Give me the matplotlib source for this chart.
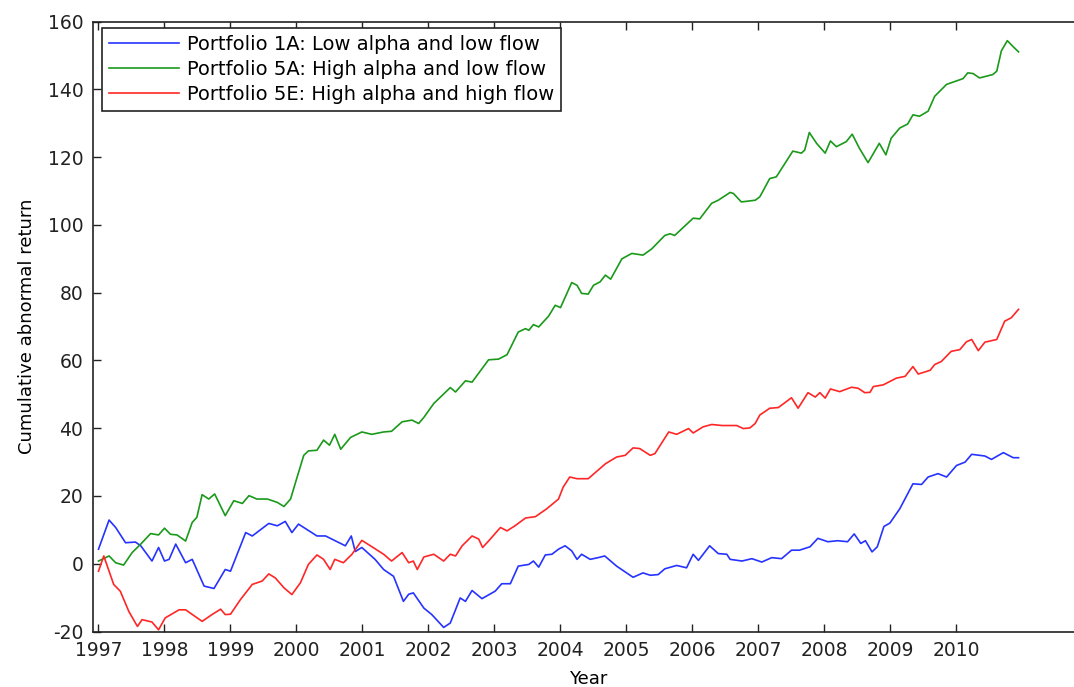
import matplotlib
matplotlib.use("Agg")
import matplotlib.pyplot as plt

plt.rcParams["axes.unicode_minus"] = False

# ---- data ----
blue_x = [1997.00, 1997.16, 1997.26, 1997.41, 1997.56, 1997.64, 1997.81, 1997.91, 1998.00, 1998.07,
          1998.17, 1998.32, 1998.42, 1998.60, 1998.75, 1998.92, 1999.00, 1999.23, 1999.33, 1999.58,
          1999.71, 1999.83, 1999.93, 2000.03, 2000.31, 2000.44, 2000.74, 2000.83, 2000.89, 2000.99,
          2001.19, 2001.32, 2001.47, 2001.62, 2001.70, 2001.77, 2001.93, 2002.05, 2002.23, 2002.33,
          2002.48, 2002.56, 2002.66, 2002.81, 2003.01, 2003.11, 2003.24, 2003.36, 2003.52, 2003.59,
          2003.67, 2003.77, 2003.87, 2003.97, 2004.07, 2004.17, 2004.25, 2004.32, 2004.45, 2004.57,
          2004.67, 2004.85, 2005.10, 2005.25, 2005.36, 2005.48, 2005.58, 2005.76, 2005.91, 2006.01,
          2006.09, 2006.26, 2006.39, 2006.52, 2006.57, 2006.75, 2006.90, 2007.05, 2007.20, 2007.35,
          2007.50, 2007.62, 2007.78, 2007.90, 2008.05, 2008.20, 2008.35, 2008.45, 2008.55, 2008.62,
          2008.72, 2008.80, 2008.90, 2008.99, 2009.14, 2009.34, 2009.47, 2009.57, 2009.72, 2009.85,
          2010.00, 2010.13, 2010.23, 2010.43, 2010.53, 2010.71, 2010.86, 2010.94]
blue_y = [4.3, 12.9, 10.7, 6.2, 6.4, 5.3, 0.8, 4.8, 0.8, 1.3,
          5.8, 0.3, 1.3, -6.6, -7.3, -1.7, -2.2, 9.2, 8.2, 11.9,
          11.2, 12.5, 9.2, 11.7, 8.2, 8.2, 5.3, 8.2, 3.6, 4.8,
          1.3, -1.7, -3.7, -11.1, -9.0, -8.6, -13.1, -15.0, -18.8, -17.5,
          -10.1, -11.1, -7.9, -10.3, -8.1, -5.9, -5.9, -0.7, -0.2, 0.8,
          -1.0, 2.6, 2.8, 4.3, 5.3, 3.8, 1.3, 2.8, 1.3, 1.8,
          2.3, -0.7, -4.0, -2.7, -3.4, -3.2, -1.5, -0.5, -1.2, 2.8,
          1.0, 5.3, 3.0, 2.8, 1.3, 0.8, 1.5, 0.5, 1.8, 1.5,
          4.0, 4.0, 5.0, 7.5, 6.5, 6.8, 6.5, 8.8, 6.0, 6.8,
          3.5, 5.0, 11.0, 12.0, 16.2, 23.6, 23.4, 25.6, 26.6, 25.6,
          29.0, 30.0, 32.3, 31.8, 30.8, 32.8, 31.3, 31.3]

green_x = [1997.00, 1997.16, 1997.26, 1997.38, 1997.51, 1997.64, 1997.79, 1997.91, 1998.00, 1998.09,
           1998.19, 1998.32, 1998.42, 1998.49, 1998.57, 1998.67, 1998.76, 1998.92, 1999.05, 1999.18,
           1999.28, 1999.40, 1999.56, 1999.71, 1999.81, 1999.91, 2000.01, 2000.11, 2000.18, 2000.31,
           2000.41, 2000.50, 2000.58, 2000.67, 2000.82, 2000.99, 2001.14, 2001.32, 2001.44, 2001.60,
           2001.75, 2001.85, 2001.93, 2002.08, 2002.33, 2002.41, 2002.56, 2002.66, 2002.91, 2003.06,
           2003.19, 2003.36, 2003.47, 2003.52, 2003.59, 2003.67, 2003.82, 2003.92, 2004.00, 2004.17,
           2004.25, 2004.32, 2004.42, 2004.50, 2004.60, 2004.68, 2004.76, 2004.93, 2005.08, 2005.25,
           2005.38, 2005.58, 2005.66, 2005.73, 2006.01, 2006.11, 2006.29, 2006.39, 2006.57, 2006.62,
           2006.74, 2006.95, 2007.02, 2007.17, 2007.27, 2007.52, 2007.65, 2007.70, 2007.77, 2007.88,
           2008.01, 2008.09, 2008.18, 2008.33, 2008.42, 2008.53, 2008.66, 2008.83, 2008.93, 2009.01,
           2009.14, 2009.26, 2009.34, 2009.44, 2009.57, 2009.67, 2009.85, 2010.10, 2010.17, 2010.25,
           2010.35, 2010.55, 2010.61, 2010.68, 2010.77, 2010.86, 2010.94]
green_y = [0.8, 2.3, 0.3, -0.4, 3.3, 5.8, 8.9, 8.5, 10.5, 8.7,
           8.5, 6.7, 12.2, 13.7, 20.4, 19.1, 20.6, 14.2, 18.6, 17.8,
           20.1, 19.1, 19.1, 18.1, 16.9, 19.1, 25.6, 32.0, 33.3, 33.5,
           36.5, 35.0, 38.2, 33.8, 37.3, 38.9, 38.2, 38.9, 39.1, 41.9,
           42.4, 41.4, 43.2, 47.3, 52.0, 50.7, 54.0, 53.6, 60.2, 60.4,
           61.7, 68.4, 69.4, 68.9, 70.6, 69.9, 73.1, 76.3, 75.6, 83.0,
           82.2, 79.8, 79.6, 82.2, 83.2, 85.2, 84.0, 90.0, 91.6, 91.1,
           92.9, 96.9, 97.4, 96.9, 102.0, 101.8, 106.4, 107.3, 109.6, 109.3,
           106.8, 107.3, 108.3, 113.7, 114.2, 121.8, 121.2, 122.1, 127.3, 124.1,
           121.2, 124.8, 123.1, 124.6, 126.8, 122.6, 118.4, 124.1, 120.7, 125.6,
           128.6, 129.8, 132.5, 132.1, 133.6, 138.0, 141.5, 143.2, 144.9, 144.7,
           143.4, 144.4, 145.4, 151.4, 154.4, 152.6, 151.1]

red_x = [1997.00, 1997.08, 1997.23, 1997.33, 1997.46, 1997.59, 1997.66, 1997.81, 1997.91, 1998.01,
         1998.22, 1998.32, 1998.57, 1998.72, 1998.85, 1998.92, 1999.00, 1999.15, 1999.33, 1999.48,
         1999.58, 1999.68, 1999.81, 1999.93, 2000.06, 2000.18, 2000.31, 2000.41, 2000.51, 2000.58,
         2000.71, 2000.84, 2000.99, 2001.12, 2001.32, 2001.44, 2001.60, 2001.70, 2001.77, 2001.83,
         2001.93, 2002.08, 2002.23, 2002.33, 2002.41, 2002.51, 2002.66, 2002.76, 2002.82, 2002.91,
         2003.09, 2003.19, 2003.31, 2003.47, 2003.62, 2003.79, 2003.97, 2004.04, 2004.14, 2004.25,
         2004.42, 2004.68, 2004.85, 2004.98, 2005.10, 2005.20, 2005.36, 2005.43, 2005.64, 2005.76,
         2005.94, 2006.01, 2006.16, 2006.29, 2006.45, 2006.67, 2006.77, 2006.87, 2006.95, 2007.02,
         2007.17, 2007.30, 2007.50, 2007.60, 2007.75, 2007.86, 2007.93, 2008.01, 2008.09, 2008.23,
         2008.41, 2008.51, 2008.61, 2008.69, 2008.74, 2008.89, 2009.09, 2009.22, 2009.34, 2009.42,
         2009.60, 2009.67, 2009.77, 2009.92, 2010.05, 2010.15, 2010.23, 2010.33, 2010.43, 2010.61,
         2010.73, 2010.83, 2010.94]
red_y = [-2.2, 2.3, -6.1, -8.1, -14.1, -18.5, -16.5, -17.2, -19.5, -16.0,
         -13.6, -13.6, -17.0, -15.0, -13.4, -15.0, -14.9, -10.6, -6.1, -5.1,
         -3.0, -4.2, -7.1, -9.1, -5.6, -0.2, 2.6, 1.3, -1.7, 1.3,
         0.3, 2.8, 6.9, 5.3, 2.8, 0.8, 3.3, 0.3, 0.8, -1.7,
         2.0, 2.8, 0.8, 2.8, 2.3, 5.3, 8.2, 7.3, 4.8, 6.7,
         10.7, 9.7, 11.2, 13.5, 13.9, 16.2, 19.1, 22.6, 25.6, 25.1,
         25.1, 29.5, 31.5, 32.0, 34.2, 34.0, 32.0, 32.5, 38.9, 38.2,
         39.9, 38.6, 40.4, 41.1, 40.8, 40.8, 39.9, 40.1, 41.4, 43.9,
         45.9, 46.1, 49.0, 45.9, 50.5, 49.2, 50.5, 48.9, 51.6, 50.8,
         52.1, 51.8, 50.5, 50.6, 52.3, 52.8, 54.8, 55.3, 58.2, 56.0,
         57.1, 58.8, 59.7, 62.7, 63.2, 65.5, 66.2, 62.9, 65.4, 66.2,
         71.6, 72.6, 75.1]

labels = ["Portfolio 1A: Low alpha and low flow",
          "Portfolio 5A: High alpha and low flow",
          "Portfolio 5E: High alpha and high flow"]
year_ticks = list(range(1997, 2011))
y_ticks = list(range(-20, 161, 20))

# ---- figure ----
W, H = 1074, 687
fig = plt.figure(figsize=(W / 100, H / 100), dpi=100)
left_px, right_px, top_px, bot_px = 93, 1083, 21.7, 631.5
ax = fig.add_axes([left_px / W, 1 - bot_px / H, (right_px - left_px) / W, (bot_px - top_px) / H])

lw = 1.2
ax.plot(blue_x, blue_y, color=(0.15, 0.2, 1.0), lw=lw, label=labels[0])
ax.plot(green_x, green_y, color=(0.1, 0.6, 0.1), lw=lw, label=labels[1])
ax.plot(red_x, red_y, color=(1.0, 0.15, 0.15), lw=lw, label=labels[2])

ax.set_xlim(1997 - 1 / 12, 2012 - 1 / 12)
ax.set_ylim(-20, 160)
ax.set_xticks(year_ticks)
ax.set_xticklabels([str(y) for y in year_ticks])
ax.set_yticks(y_ticks)
ax.tick_params(direction="in", length=6, width=1, labelsize=13.5, top=True, right=True,
               colors="#222222", pad=7)
for s in ax.spines.values():
    s.set_linewidth(1.2)
    s.set_color("#222222")

ax.set_xlabel("Year", fontsize=13, labelpad=7)
ax.set_ylabel("Cumulative abnormal return", fontsize=13, labelpad=8)

leg = ax.legend(loc="upper left", bbox_to_anchor=((101.7 - left_px) / (right_px - left_px),
                                                  (bot_px - 28.3) / (bot_px - top_px)),
                borderaxespad=0, fontsize=14, handlelength=3.6, handletextpad=0.45,
                labelspacing=0.3, borderpad=0.35, fancybox=False, framealpha=1,
                edgecolor="#222222")
leg.get_frame().set_linewidth(1.2)

fig.savefig("out.png", dpi=100, facecolor="white")
